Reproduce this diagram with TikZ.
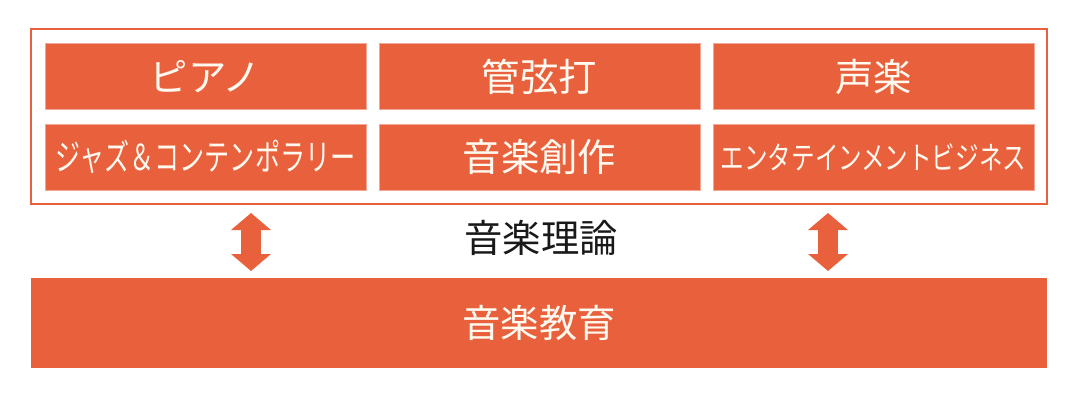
\documentclass[tikz,border=0pt]{standalone}
\usepackage{fontspec}
\setmainfont{Noto Sans CJK JP}
\usepackage{tikz}
\usetikzlibrary{arrows.meta}
\definecolor{ora}{HTML}{E8613C}
\definecolor{cream}{HTML}{FFF9F0}

\begin{document}
\begin{tikzpicture}[x=1bp,y=1bp,
    box/.style={fill=ora, draw=ora!55!white, line width=0.8bp, inner sep=0pt,
        minimum width=321bp, minimum height=66bp, text=cream,
        font=\fontsize{38.5}{42}\selectfont},
    frame/.style={draw=ora, line width=1.5bp, inner sep=0pt,
        minimum width=1016bp, minimum height=175bp},
    fat/.style={draw=ora, line width=20bp,
        {Triangle[width=39bp,length=17bp]}-{Triangle[width=39bp,length=17bp]}}]
    \useasboundingbox (0,0) rectangle (1080,400);
    \node[frame] (frame) at (539,283.5) {};
    \node[box] (piano) at (205.5,323.5) {ピアノ};
    \node[box] (kgd) at (539.5,323.5) {管弦打};
    \node[box] (voice) at (873.5,323.5) {声楽};
    \node[box] (jazz) at (205.5,243) {\fontsize{36}{40}\selectfont\scalebox{0.70}[1]{ジャズ＆コンテンポラリー}};
    \node[box] (comp) at (539.5,243) {音楽創作};
    \node[box] (ent) at (873.5,243) {\fontsize{31.5}{34}\selectfont\scalebox{0.75}[1]{エンタテインメントビジネス}};
    \node[box, minimum width=1016bp, minimum height=90bp, draw=none] (edu) at (539,77) {音楽教育};
    \node[font=\fontsize{38.5}{42}\selectfont, text=black!90] (theory) at (541,162) {音楽理論};
    \coordinate (la) at (251,187);
    \coordinate (lb) at (251,129);
    \coordinate (ra) at (828,187);
    \coordinate (rb) at (828,129);
    \draw[fat] (la) -- (lb);
    \draw[fat] (ra) -- (rb);
\end{tikzpicture}
\end{document}
